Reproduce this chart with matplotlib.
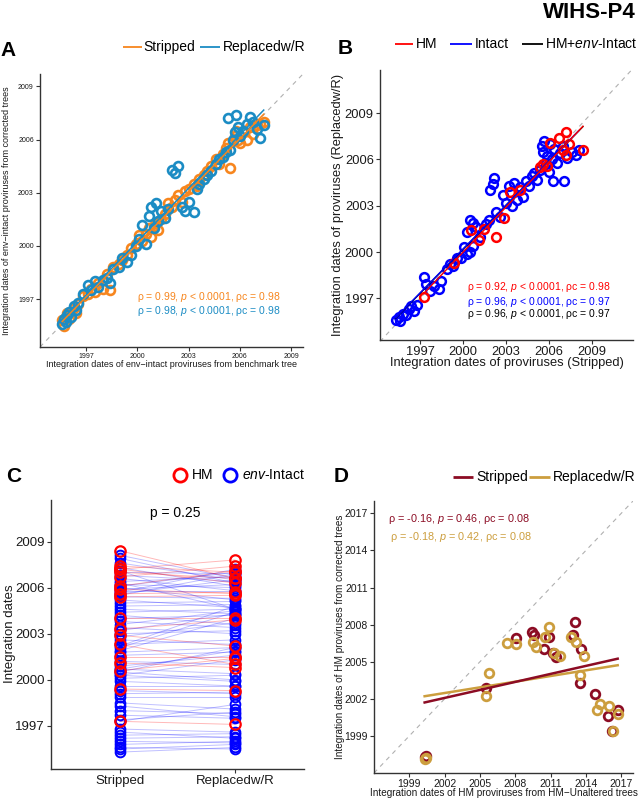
import numpy as np
import matplotlib
matplotlib.use('Agg')
import matplotlib.pyplot as plt
from matplotlib.lines import Line2D

plt.rcParams['font.family'] = ['Liberation Sans', 'DejaVu Sans']
plt.rcParams['mathtext.fontset'] = 'custom'
plt.rcParams['mathtext.rm'] = 'Liberation Sans'
plt.rcParams['mathtext.it'] = 'Liberation Sans:italic'
plt.rcParams['mathtext.bf'] = 'Liberation Sans:bold'

# ---------------- DATA ----------------
# Panel A: env-intact proviruses, benchmark tree vs corrected trees
a_bench = [1995.6, 1995.7, 1995.8, 1995.9, 1996.0, 1996.1, 1996.3, 1996.4, 1996.5, 1996.8,
           1997.1, 1997.3, 1997.5, 1997.7, 1998.0, 1998.4, 1998.2, 1998.6, 1998.9, 1999.1,
           1999.4, 1999.6, 1999.9, 2000.1, 2000.3, 2000.5, 2000.7, 2000.8, 2001.0, 2001.1,
           2001.2, 2001.4, 2001.6, 2001.8, 2002.0, 2002.2, 2002.4, 2002.6, 2002.8, 2003.0,
           2003.3, 2003.5, 2003.6, 2003.9, 2004.1, 2004.3, 2004.6, 2004.8, 2005.0, 2005.2,
           2005.4, 2005.6, 2005.7, 2005.9, 2005.3, 2005.8, 2006.0, 2006.2, 2006.4, 2006.6,
           2006.8, 2007.0, 2007.2, 2007.4]
a_stripped = [1995.8, 1995.5, 1996.0, 1996.2, 1995.9, 1996.3, 1996.5, 1996.2, 1996.7, 1997.2,
              1997.3, 1997.6, 1997.4, 1997.9, 1997.6, 1997.5, 1998.4, 1998.8, 1999.0, 1999.2,
              1999.5, 1999.9, 2000.1, 2000.6, 2000.3, 2000.7, 2001.0, 2000.5, 2001.1, 2001.3,
              2000.9, 2001.5, 2001.8, 2002.4, 2002.2, 2002.6, 2002.9, 2002.5, 2003.1, 2003.2,
              2003.5, 2003.4, 2003.8, 2004.0, 2004.2, 2004.5, 2004.9, 2004.6, 2005.2, 2005.5,
              2004.4, 2005.9, 2006.2, 2006.0, 2005.8, 2006.5, 2005.8, 2006.4, 2006.0, 2006.7,
              2006.3, 2006.8, 2006.9, 2007.0]
a_replaced = [1995.6, 1995.9, 1995.7, 1996.1, 1996.3, 1996.0, 1996.6, 1996.4, 1996.8, 1997.3,
              1997.8, 1997.5, 1998.0, 1997.7, 1998.1, 1997.9, 1998.2, 1998.7, 1998.8, 1999.3,
              1999.1, 1999.5, 2000.0, 2000.4, 2001.2, 2000.1, 2001.7, 2002.2, 2001.0, 2002.4,
              2001.4, 2002.0, 2001.6, 2002.1, 2004.3, 2004.1, 2004.5, 2002.2, 2002.0, 2002.5,
              2001.9, 2003.2, 2003.5, 2003.8, 2004.0, 2004.2, 2004.6, 2004.9, 2005.0, 2005.3,
              2005.4, 2006.0, 2006.4, 2006.7, 2007.2, 2007.4, 2006.2, 2006.5, 2006.9, 2007.3,
              2007.0, 2006.6, 2006.1, 2006.8]

# Panels B & C: stripped vs replaced dates, intact and HM proviruses
intact_stripped = [1995.3, 1995.5, 1995.6, 1995.8, 1996.0, 1996.2, 1996.4, 1996.6, 1996.8, 1997.3,
                   1997.4, 1997.7, 1998.0, 1998.3, 1998.5, 1998.9, 1999.1, 1999.3, 1999.6, 1999.9,
                   2000.1, 2000.3, 2000.5, 2000.7, 2000.3, 2000.5, 2000.7, 2000.9, 2001.2, 2001.6,
                   2001.8, 2001.9, 2002.1, 2002.2, 2002.3, 2002.6, 2002.8, 2003.0, 2003.2, 2003.4,
                   2003.6, 2003.8, 2004.0, 2004.2, 2004.4, 2004.6, 2004.8, 2005.0, 2005.2, 2005.4,
                   2005.5, 2005.6, 2005.7, 2005.8, 2005.9, 2006.0, 2006.1, 2006.2, 2006.3, 2006.4,
                   2006.6, 2006.8, 2007.0, 2007.1, 2007.3, 2007.6, 2007.9, 2008.1]
intact_replaced = [1995.6, 1995.8, 1995.5, 1996.0, 1995.9, 1996.3, 1996.5, 1996.2, 1996.6, 1998.4,
                   1997.9, 1997.5, 1997.8, 1997.6, 1998.1, 1998.9, 1999.2, 1999.1, 1999.6, 1999.6,
                   2000.3, 1999.9, 2000.0, 2000.4, 2001.3, 2002.1, 2001.9, 2001.6, 2001.0, 2001.8,
                   2002.1, 2004.0, 2004.4, 2004.8, 2002.6, 2002.3, 2003.7, 2003.2, 2004.3, 2003.0,
                   2004.5, 2003.4, 2004.2, 2003.6, 2004.6, 2004.3, 2004.9, 2005.1, 2004.7, 2005.3,
                   2006.9, 2006.5, 2007.2, 2005.8, 2006.2, 2005.2, 2007.0, 2006.0, 2004.6, 2006.7,
                   2005.8, 2006.4, 2006.9, 2004.6, 2006.1, 2006.5, 2006.3, 2006.6]
hm_stripped = [1997.3, 1999.4, 2000.6, 2001.1, 2001.5, 2002.3, 2002.9, 2003.3, 2004.0, 2005.4,
               2005.6, 2005.9, 2006.1, 2006.7, 2007.2, 2007.0, 2007.4, 2007.2, 2008.4]
hm_replaced = [1997.1, 1999.3, 2001.4, 2000.8, 2001.5, 2001.0, 2002.2, 2003.9, 2004.0, 2005.5,
               2005.7, 2005.6, 2007.1, 2007.4, 2007.8, 2006.6, 2007.0, 2006.3, 2006.6]

# Panel D: HM proviruses, HM-unaltered tree vs corrected trees
d_unaltered_s = [2000.3, 2000.4, 2005.5, 2008.1, 2009.4, 2009.6, 2010.4, 2010.9, 2011.2, 2011.5,
                 2012.9, 2013.1, 2013.5, 2013.6, 2014.8, 2015.9, 2016.2, 2016.7]
d_stripped = [1997.3, 1997.4, 2002.9, 2006.9, 2007.4, 2007.2, 2006.0, 2007.0, 2005.7, 2005.4,
              2007.2, 2008.2, 2003.3, 2006.0, 2002.4, 2000.6, 1999.4, 2001.1]
d_unaltered_r = [2000.3, 2000.4, 2005.5, 2005.8, 2007.3, 2008.1, 2009.5, 2009.8, 2010.5, 2010.9,
                 2011.3, 2011.8, 2012.7, 2013.2, 2013.5, 2013.8, 2014.9, 2015.2, 2016.0, 2016.3,
                 2016.7]
d_replaced = [1997.1, 1997.2, 2002.2, 2004.1, 2006.5, 2006.4, 2006.6, 2006.2, 2007.0, 2007.8,
              2005.7, 2005.5, 2007.0, 2006.6, 2003.9, 2005.5, 2001.1, 2001.6, 2001.4, 1999.4,
              2000.8]

ticks_ab = [1997, 2000, 2003, 2006, 2009]
ticks_d = [1999, 2002, 2005, 2008, 2011, 2014, 2017]
cat_labels = ['Stripped', 'Replacedw/R']

txt_a = ['ρ = 0.99, $\\mathit{p}$ < 0.0001, ρc = 0.98',
         'ρ = 0.98, $\\mathit{p}$ < 0.0001, ρc = 0.98']
txt_b = ['ρ = 0.92, $\\mathit{p}$ < 0.0001, ρc = 0.98',
         'ρ = 0.96, $\\mathit{p}$ < 0.0001, ρc = 0.97',
         'ρ = 0.96, $\\mathit{p}$ < 0.0001, ρc = 0.97']
txt_d = ['ρ = -0.16, $\\mathit{p}$ = 0.46, ρc = 0.08',
         'ρ = -0.18, $\\mathit{p}$ = 0.42, ρc = 0.08']

# ---------------- STYLE ----------------
ORANGE = '#F7861E'
LBLUE = '#1B8CC4'
RED = '#FF0000'
BLUE = '#0000FF'
DRED = '#8C0C24'
GOLD = '#CC9E3E'
DASH = '#B0B0B0'

W, H = 638, 800
fig = plt.figure(figsize=(W / 100, H / 100), dpi=100)


def fx(x):
    return x / W


def fy(y):
    return 1 - y / H


def ax_px(x0, y0, x1, y1):
    return fig.add_axes([x0 / W, 1 - y1 / H, (x1 - x0) / W, (y1 - y0) / H])


def style(ax, fs):
    for s in ['top', 'right']:
        ax.spines[s].set_visible(False)
    for s in ['left', 'bottom']:
        ax.spines[s].set_linewidth(1.0)
        ax.spines[s].set_color('#333333')
    ax.tick_params(direction='out', length=3, width=0.8, colors='#333333',
                   labelsize=fs, labelcolor='#1a1a1a', pad=1.5)
    ax.set_facecolor('none')


def ftext(x, y, s, **kw):
    kw.setdefault('va', 'center')
    fig.text(fx(x), fy(y), s, **kw)


def fline(x0, x1, y, color, lw):
    fig.add_artist(Line2D([fx(x0), fx(x1)], [fy(y), fy(y)], color=color, lw=lw,
                          transform=fig.transFigure, solid_capstyle='butt'))


def fit_line(ax, x, y, color, lw, z=4):
    x = np.asarray(x)
    y = np.asarray(y)
    k, b = np.polyfit(x, y, 1)
    xs = np.array([x.min(), x.max()])
    ax.plot(xs, k * xs + b, color=color, lw=lw, zorder=z)


# ---------------- PANEL A ----------------
axA = ax_px(40, 74, 303, 347)
style(axA, 5)
limA = (1994.3, 2009.7)
axA.plot(limA, limA, ls=(0, (4, 4)), color=DASH, lw=0.8, zorder=0)
axA.plot(a_bench, a_stripped, 'o', mfc='none', mec=ORANGE, ms=6.4, mew=1.9, zorder=2)
axA.plot(a_bench, a_replaced, 'o', mfc='none', mec=LBLUE, ms=6.4, mew=1.9, zorder=3)
fit_line(axA, a_bench, a_replaced, LBLUE, 1.1)
fit_line(axA, a_bench, a_stripped, ORANGE, 1.1, z=5)
axA.set_xlim(limA)
axA.set_ylim(limA)
axA.set_xticks(ticks_ab)
axA.set_yticks(ticks_ab)
ftext(137, 297, txt_a[0], color=ORANGE, fontsize=7.5, ha='left')
ftext(137, 311, txt_a[1], color=LBLUE, fontsize=7.5, ha='left')
ftext(171.5, 364, 'Integration dates of env\u2212intact proviruses from benchmark tree',
      fontsize=6.5, ha='center', color='#1a1a1a')
ftext(7, 210.5, 'Integration dates of env\u2212intact proviruses from corrected trees',
      fontsize=6.5, ha='center', rotation=90, color='#1a1a1a')
ftext(8, 50, 'A', fontsize=15, fontweight='bold', ha='center')
fline(122.7, 141.7, 47, ORANGE, 1.3)
ftext(143, 47, 'Stripped', fontsize=10, ha='left')
fline(200, 220, 47, LBLUE, 1.3)
ftext(223, 47, 'Replacedw/R', fontsize=10, ha='left')

# ---------------- PANEL B ----------------
axB = ax_px(380, 70, 633, 340)
style(axB, 9.3)
limBx = (1994.2, 2011.9)
limBy = (1994.3, 2011.8)
axB.plot([1994.2, 2011.9], [1994.2, 2011.9], ls=(0, (4, 4)), color=DASH, lw=0.8, zorder=0)
axB.plot(intact_stripped, intact_replaced, 'o', mfc='none', mec=BLUE, ms=6.3, mew=1.8, zorder=2)
axB.plot(hm_stripped, hm_replaced, 'o', mfc='none', mec=RED, ms=6.3, mew=1.8, zorder=3)
fit_line(axB, intact_stripped + hm_stripped, intact_replaced + hm_replaced, 'black', 1.0)
fit_line(axB, intact_stripped, intact_replaced, BLUE, 1.0, z=5)
fit_line(axB, hm_stripped, hm_replaced, RED, 1.0, z=6)
axB.set_xlim(limBx)
axB.set_ylim(limBy)
axB.set_xticks(ticks_ab)
axB.set_yticks(ticks_ab)
ftext(467, 287, txt_b[0], color=RED, fontsize=7.5, ha='left')
ftext(467, 301.5, txt_b[1], color=BLUE, fontsize=7.5, ha='left')
ftext(467, 314.5, txt_b[2], color='black', fontsize=7.5, ha='left')
ftext(506.5, 363, 'Integration dates of proviruses (Stripped)', fontsize=9.3, ha='center', color='#1a1a1a')
ftext(338, 205, 'Integration dates of proviruses (Replacedw/R)', fontsize=9.3, ha='center',
      rotation=90, color='#1a1a1a')
ftext(345, 48, 'B', fontsize=15, fontweight='bold', ha='center')
fline(395, 413, 43.5, RED, 1.3)
ftext(416, 43.5, 'HM', fontsize=10, ha='left')
fline(450, 472, 43.5, BLUE, 1.3)
ftext(475, 43.5, 'Intact', fontsize=10, ha='left')
fline(522, 543, 43.5, 'black', 1.3)
ftext(545, 43.5, 'HM+$\\mathit{env}$-Intact', fontsize=10, ha='left')
ftext(636, 12, 'WIHS-P4', fontsize=16, fontweight='bold', ha='right')

# ---------------- PANEL C ----------------
axC = ax_px(51, 500, 304, 769)
style(axC, 9.5)
for s, r in zip(intact_stripped, intact_replaced):
    axC.plot([1, 2], [s, r], color=BLUE, lw=0.7, alpha=0.25, zorder=1)
for s, r in zip(hm_stripped, hm_replaced):
    axC.plot([1, 2], [s, r], color=RED, lw=0.7, alpha=0.28, zorder=1)
axC.plot([1] * len(intact_stripped), intact_stripped, 'o', mfc='none', mec=BLUE, ms=7, mew=1.4, zorder=2)
axC.plot([2] * len(intact_replaced), intact_replaced, 'o', mfc='none', mec=BLUE, ms=7, mew=1.4, zorder=2)
axC.plot([1] * len(hm_stripped), hm_stripped, 'o', mfc='none', mec=RED, ms=7.5, mew=1.6, zorder=3)
axC.plot([2] * len(hm_replaced), hm_replaced, 'o', mfc='none', mec=RED, ms=7.5, mew=1.6, zorder=3)
axC.set_xlim(0.4, 2.6)
axC.set_ylim(1994.2, 2011.7)
axC.set_xticks([1, 2])
axC.set_xticklabels(cat_labels)
axC.set_yticks(ticks_ab)
ftext(175, 513, 'p = 0.25', fontsize=10, ha='center')
ftext(10, 634, 'Integration dates', fontsize=9.5, ha='center', rotation=90, color='#1a1a1a')
ftext(14, 476, 'C', fontsize=15, fontweight='bold', ha='center')
fig.add_artist(Line2D([fx(180)], [fy(475)], marker='o', ms=9.5, mfc='none', mec=RED, mew=2,
                      transform=fig.transFigure, ls='none'))
ftext(192, 475, 'HM', fontsize=10, ha='left')
fig.add_artist(Line2D([fx(230)], [fy(475)], marker='o', ms=9.5, mfc='none', mec=BLUE, mew=2,
                      transform=fig.transFigure, ls='none'))
ftext(242, 475, '$\\mathit{env}$-Intact', fontsize=10, ha='left')

# ---------------- PANEL D ----------------
axD = ax_px(374, 501, 633, 773)
style(axD, 7.5)
limD = (1996.0, 2018.0)
axD.plot(limD, limD, ls=(0, (4, 4)), color=DASH, lw=0.8, zorder=0)
axD.plot(d_unaltered_s, d_stripped, 'o', mfc='none', mec=DRED, ms=6.2, mew=2.0, zorder=2)
axD.plot(d_unaltered_r, d_replaced, 'o', mfc='none', mec=GOLD, ms=6.2, mew=2.0, zorder=3)
fit_line(axD, d_unaltered_s, d_stripped, DRED, 1.8)
fit_line(axD, d_unaltered_r, d_replaced, GOLD, 1.8, z=3.5)
axD.set_xlim(limD)
axD.set_ylim(limD)
axD.set_xticks(ticks_d)
axD.set_yticks(ticks_d)
ftext(388, 519, txt_d[0], color=DRED, fontsize=7.8, ha='left')
ftext(390, 537, txt_d[1], color=GOLD, fontsize=7.8, ha='left')
ftext(503.5, 793, 'Integration dates of HM proviruses from HM\u2212Unaltered trees', fontsize=7.2,
      ha='center', color='#1a1a1a')
ftext(340, 637, 'Integration dates of HM proviruses from corrected trees', fontsize=7.2,
      ha='center', rotation=90, color='#1a1a1a')
ftext(341, 476, 'D', fontsize=15, fontweight='bold', ha='center')
fline(453, 473, 477, DRED, 2.0)
ftext(476, 477, 'Stripped', fontsize=10, ha='left')
fline(529, 550, 477, GOLD, 2.0)
ftext(553, 477, 'Replacedw/R', fontsize=10, ha='left')

fig.savefig('out.png', dpi=100)
